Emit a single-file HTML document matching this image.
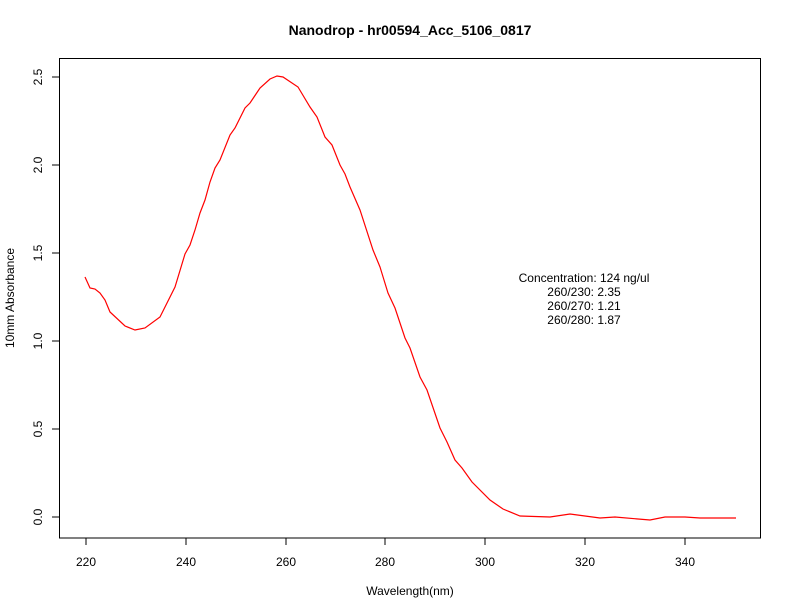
<!DOCTYPE html>
<html><head><meta charset="utf-8"><style>body{margin:0;background:#fff}svg{display:block}text{font-family:"Liberation Sans",sans-serif;font-size:12px;fill:#000}</style></head>
<body>
<svg width="792" height="612" viewBox="0 0 792 612" xmlns="http://www.w3.org/2000/svg">
<rect width="792" height="612" fill="#fff"/>
<text x="410" y="35" text-anchor="middle" style="font-weight:bold;font-size:14px">Nanodrop - hr00594_Acc_5106_0817</text>
<rect x="59.5" y="58.5" width="701" height="479.5" fill="none" stroke="#000" stroke-width="1"/>
<g stroke="#000" stroke-width="1">
<line x1="86" y1="538" x2="86" y2="545"/><line x1="186" y1="538" x2="186" y2="545"/><line x1="286" y1="538" x2="286" y2="545"/><line x1="385" y1="538" x2="385" y2="545"/><line x1="485" y1="538" x2="485" y2="545"/><line x1="585" y1="538" x2="585" y2="545"/><line x1="685" y1="538" x2="685" y2="545"/>
<line x1="52" y1="517" x2="59" y2="517"/><line x1="52" y1="429" x2="59" y2="429"/><line x1="52" y1="341" x2="59" y2="341"/><line x1="52" y1="253" x2="59" y2="253"/><line x1="52" y1="165" x2="59" y2="165"/><line x1="52" y1="77" x2="59" y2="77"/>
</g>
<g text-anchor="middle">
<text x="86" y="566">220</text><text x="186" y="566">240</text><text x="286" y="566">260</text><text x="385" y="566">280</text><text x="485" y="566">300</text><text x="585" y="566">320</text><text x="685" y="566">340</text>
<text x="410" y="595">Wavelength(nm)</text>
<text transform="translate(42,517) rotate(-90)">0.0</text>
<text transform="translate(42,429) rotate(-90)">0.5</text>
<text transform="translate(42,341) rotate(-90)">1.0</text>
<text transform="translate(42,253) rotate(-90)">1.5</text>
<text transform="translate(42,165) rotate(-90)">2.0</text>
<text transform="translate(42,77) rotate(-90)">2.5</text>
<text transform="translate(14,298) rotate(-90)">10mm Absorbance</text>
<text x="584" y="282">Concentration: 124 ng/ul</text>
<text x="584" y="296">260/230: 2.35</text>
<text x="584" y="310">260/270: 1.21</text>
<text x="584" y="324">260/280: 1.87</text>
</g>
<polyline fill="none" stroke="#ff0000" stroke-width="1.2" points="85,277 90,288 95,289 100,293 105,300 110,312 125,326 135,330 145,328 160,317 175,287 185,254 190,245 195,230 200,213 205,200 210,182 215,168 220,160 230,135 235,128 245,108 250,103 260,88 270,79 277,76 283,77 298,87 310,107 317,117 325,137 332,145 340,165 345,174 350,187 360,210 373,250 380,267 388,293 395,308 405,338 410,348 420,377 427,390 440,428 447,442 455,460 462,468 472,482 490,500 503,509 520,516 550,517 570,514 600,518 615,517 650,520 665,517 685,517 700,518 736,518"/>
</svg>
</body></html>
